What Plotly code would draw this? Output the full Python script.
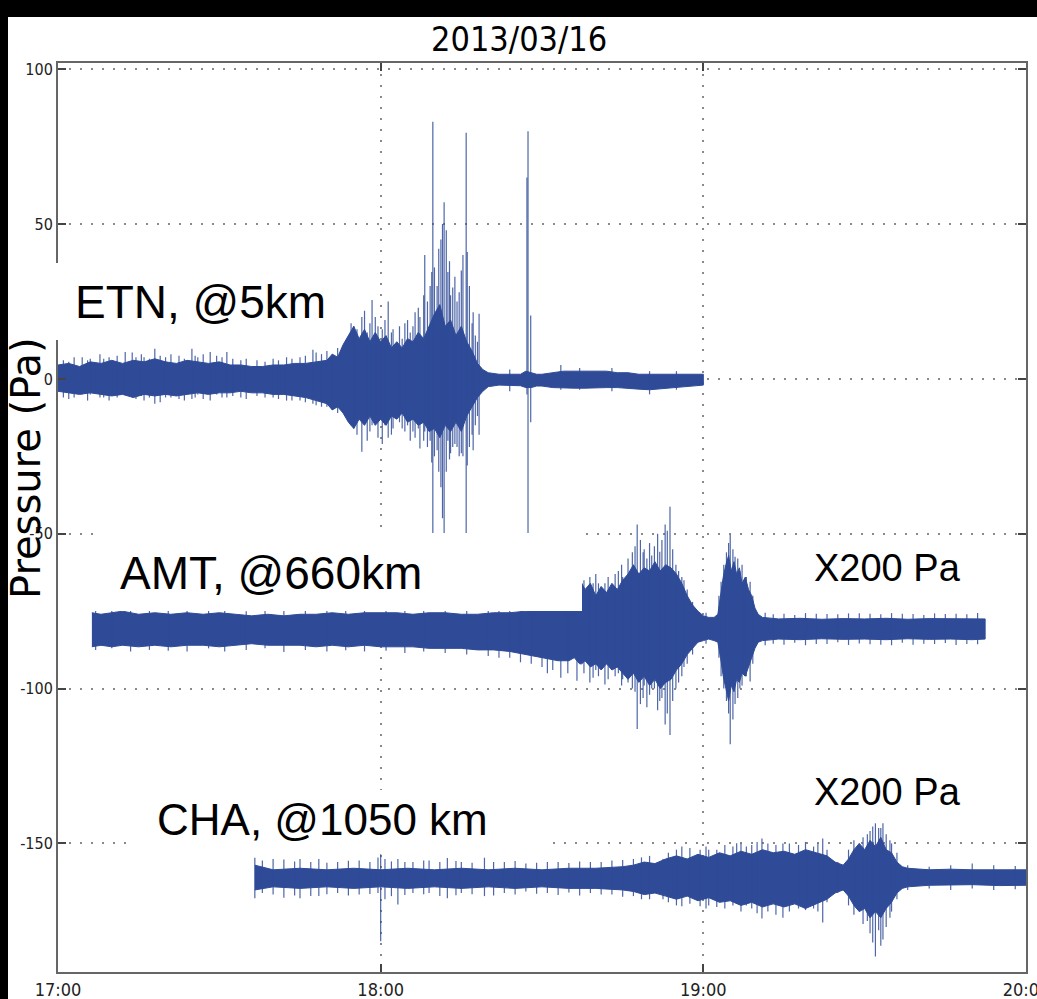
import plotly.graph_objects as go

# ---------------- data (minutes after 17:00, pressure in plotted Pa units) ----------------
time_tick_vals = [0, 60, 120, 180]
time_tick_text = ["17:00", "18:00", "19:00", "20:00"]
y_tick_vals = [-150, -100, -50, 0, 50, 100]
y_tick_text = ["-150", "-100", "-50", "0", "50", "100"]

# ETN (@5 km) envelope
etn_t = [0, 2, 4, 6, 8, 10, 12, 14, 16, 18, 20, 22, 24, 26, 28, 30, 32, 34, 36, 38, 40, 42, 44, 46, 48, 50,
         51, 52, 53, 54, 55, 56, 57, 58, 59, 60, 61, 62, 63, 64, 65, 66, 67, 68, 69, 70, 71, 72, 73, 74, 75,
         76, 77, 78, 79, 80, 82, 84, 86, 87, 88, 89, 90, 92, 94, 96, 98, 100, 102, 104, 106, 108, 110, 112,
         114, 116, 118, 120]
etn_hi = [4.5, 5, 4, 5.5, 5, 6, 5, 6, 5.5, 6.5, 5.5, 5, 6, 5.5, 5, 5.5, 4.5, 4.5, 4, 4, 4.5, 4.5, 5, 5, 5.5, 6,
          8, 7, 11, 14, 17, 13, 16, 12, 15, 12, 14, 10, 12, 10, 13, 12, 15, 13, 17, 21, 24, 17, 19, 14, 17,
          12, 9, 5, 3, 2, 1.5, 1.5, 1.5, 2.5, 2, 1.5, 1.5, 2, 2.5, 2.5, 2.5, 2.5, 2.5, 2, 2, 1.5, 1.5, 1.5,
          1.5, 1.5, 1.5, 1.5]
etn_lo = [-4, -4.5, -5, -4.5, -5, -5.5, -5, -6, -5, -5.5, -5, -5.5, -5, -4.5, -5, -4.5, -4.5, -4, -4.5, -4.5, -5,
          -5, -5.5, -6, -7, -8,
          -10, -9, -11, -14, -16, -13, -15, -12, -15, -13, -15, -12, -13, -11, -14, -13, -15, -14, -17, -16,
          -19, -15, -17, -14, -17, -12, -9, -6, -4, -2.5, -2, -2, -2.2, -2.8, -2.8, -2.3, -2.3, -2.8, -3, -3,
          -3, -3, -2.8, -2.8, -3, -3.3, -3.5, -3, -2.8, -2.6, -2.3, -2]
# ETN individual spikes (time, top, bottom)
etn_spk_t = [3, 6, 7.8, 9.5, 12.5, 13.8, 16, 18, 20, 22.5, 24.9, 26, 28.3, 29.5, 31.4, 34, 37, 40, 42.5, 45,
             47.4, 49, 51, 53, 54.5, 55.6, 56.5, 58.4, 59.5, 61.4, 62.3, 64.5, 66.4, 67.3, 68.2, 69.5, 69.7,
             70.5, 71.5, 71.8, 72.2, 72.5, 73.4, 74.2, 75.3, 75.9, 76.1, 77.2, 78.3, 84, 87.2, 87.4, 87.9,
             93.5, 97, 103, 110, 115,
             1, 2, 4.5, 5.5, 8.5, 11, 14.5, 15.5, 17, 19, 21, 23.5, 25.5, 27, 30.5, 32.5, 35, 38.5, 41, 43.5,
             46, 48, 50, 52,
             54, 55, 57, 57.5, 58, 59, 60.3, 60.8, 62, 63.5, 64, 65, 65.5, 66, 67, 68, 68.7, 69.2, 70, 70.8,
             71.2, 72.8, 73, 73.8, 74.6, 75, 76.5, 77, 77.6, 78]
etn_spk_hi = [7, 6.5, 8, 7, 8.7, 8.5, 7, 9.7, 7, 7.5, 9.7, 7, 8.7, 7.5, 8.7, 6, 6, 6.5, 7, 7,
              9.4, 8, 8, 9.7, 18, 16, 20, 25.5, 17, 25, 16, 18, 21.5, 20, 40, 34.5, 83,
              30, 50, 57, 48, 34.5, 29.5, 25, 40, 79.5, 41, 21.5, 21, 3, 65, 80, 20.5,
              4.5, 3.5, 3.5, 2.5, 2.5,
              6, 5.5, 7, 6, 6.5, 7.5, 7, 8, 6.5, 7.5, 8, 6.5, 7.5, 8, 7, 6.5, 6.5, 5.5, 6, 6.5,
              7.5, 8.5, 9, 10,
              13, 17, 22, 15, 18, 20, 16, 19, 15, 17, 13, 19, 15, 17, 23, 27, 25, 30, 36, 42,
              45, 38, 27, 33, 28, 35, 30, 18, 14, 12]
etn_spk_lo = [-6, -5, -6, -7, -4, -6, -7, -8, -6, -6.5, -6.5, -5, -7, -5, -6, -6, -5.5, -6, -7, -7,
              -8, -9, -10, -9.7, -15, -18, -23.5, -15, -19, -19, -16, -17, -19, -22.5, -17, -27, -56,
              -23, -45, -56, -30, -20, -22, -22, -25, -56, -28, -23, -18, -4, -5, -56, -14,
              -3.5, -3.5, -4, -5, -3.5,
              -6, -6.5, -5, -7, -6, -6, -6.5, -5.5, -6, -7.5, -6, -7, -6, -6.5, -6, -5.5, -6.5, -6, -6.5, -7,
              -7.5, -8.5, -9, -11,
              -12, -16, -14, -20, -17, -14, -21, -15, -18, -14, -16, -15, -20, -17, -16, -20, -22, -20, -25, -30,
              -35, -26, -24, -21, -25, -24, -22, -18, -15, -12]

# AMT (@660 km, x200) envelope
amt_t = [6.3, 8, 10, 12, 15, 18, 21, 24, 27, 30, 33, 36, 39, 42, 45, 48, 51, 54, 57, 60, 63, 66, 69, 72, 75,
         78, 81, 84, 87, 90, 93,
         95, 96, 97, 97.4, 98, 99, 100, 101, 102, 103, 104, 105, 106, 107, 108, 109, 110, 111, 112, 113,
         114, 115, 116, 117, 118, 119, 120, 121, 122, 122.7, 123.2, 123.7, 124.2, 124.7, 125.2, 125.7,
         126.2, 126.7, 127.2, 127.8, 128.4, 129, 129.6, 130.2, 131,
         134, 138, 142, 146, 150, 154, 158, 162, 166, 170, 172.4]
amt_hi = [-75.5, -76, -75.5, -75, -76, -75.5, -76, -75.5, -76, -75.5, -76, -76.5, -76, -76.5, -76, -76, -75.5,
          -76, -75.5, -75.5, -75.5, -76, -75.5, -75.5, -76, -76, -75.5, -75.5, -75, -74, -73,
          -73, -73, -73, -66, -68, -66, -70, -67, -69, -66, -68, -65, -63, -60, -63, -61, -62, -59, -62, -60,
          -61, -63, -66, -70, -73, -75, -76.5, -77, -77, -76, -70, -64, -60, -57, -62, -59,
          -63, -61, -66, -64, -68, -70, -74, -76, -77,
          -77.5, -77.3, -77.6, -77.4, -77.5, -77.3, -77.6, -77.4, -77.5, -77.4, -77.5]
amt_lo = [-86.5, -86, -86.5, -86, -86.5, -86, -86.5, -86, -86, -86.5, -86, -85.5, -86, -86, -86, -86.5, -86,
          -86.5, -86, -86.5, -86.5, -86.5, -87, -87, -87, -87.5, -87.5, -88, -89, -90, -91,
          -91, -90, -92, -92, -91, -93, -92, -94, -92, -94, -93, -95, -97, -95, -98, -96, -99, -97, -100, -98,
          -97, -94, -92, -89, -87, -85, -84.5, -84, -84.5, -85, -90, -96, -100, -104, -99, -101,
          -97, -98, -95, -96, -93, -90, -87, -85, -84.5,
          -84, -84.2, -83.9, -84.1, -84, -84.2, -83.9, -84.1, -84, -84.2, -84]
amt_spk_t = [7, 10, 13.5, 17, 20.5, 24, 28, 31, 35, 38.5, 42, 46, 50, 53.5, 57, 61, 64.5, 68, 72, 76, 80, 84,
             88, 92, 94.8, 96.5, 98.9, 100.5, 101.7, 103.6, 105, 107.3, 107.7, 108.8, 109.5, 110.4, 111.9,
             112.9, 113.8, 114.9, 116.4, 120.5, 123.3, 125, 125.9, 126.8, 128.7, 133, 137, 141, 145, 149,
             153, 157, 161, 165, 169,
             97.8, 99.5, 100, 102.3, 104.2, 104.8, 106, 106.8, 108.3, 109, 110, 110.9, 111.5, 112.3, 113.3,
             114.3, 115.4, 116, 117, 118,
             122.9, 123.8, 124.3, 124.7, 125.5, 126.4, 127.2, 128, 129.2,
             131.5, 135, 139, 143, 147, 151, 155, 159, 163, 167, 171,
             82, 86, 90, 91, 93.5]
amt_spk_hi = [-74, -74.5, -74, -74.8, -74, -74.5, -74.2, -74.6, -75, -74.5, -74.8, -74.5, -74.2, -74.6, -74.3,
              -74.8, -74.4, -74.5, -74.8, -74.6, -74.5, -74.8, -74, -73, -70, -67, -64, -66, -66, -63, -64,
              -54, -47, -56, -58, -57, -55.8, -47, -41.3, -60, -65, -75.5, -65.5, -50.3, -57.4, -62, -65.5,
              -76, -76.2, -75.8, -76, -75.7, -76, -75.8, -76.2, -75.9, -76,
              -65, -66, -63, -64, -62, -60, -58, -56, -52, -55, -53, -54, -50, -52, -49,
              -55, -62, -64, -68, -72,
              -70, -60, -56, -53, -55, -58, -60, -64, -70,
              -75.5, -75.8, -75.6, -75.9, -75.7, -75.8, -75.6, -75.9, -75.7, -75.8, -75.6,
              -74.5, -74, -73.5, -73, -72]
amt_spk_lo = [-87.5, -87, -88, -87.5, -87.8, -88, -87, -88, -87.5, -87, -88.2, -87.5, -88, -87.6, -88, -87.8,
              -88.5, -88, -88.5, -89, -89.5, -90, -92, -94, -95, -97.5, -98, -96, -98.7, -96, -97, -101,
              -113, -103, -106, -100, -104, -111.6, -115, -100, -93, -85.5, -96, -118, -105, -100, -97.7,
              -85.5, -85.2, -85.6, -85, -85.4, -85.8, -85.2, -85.5, -85.3, -85.6,
              -95, -96.5, -94, -97, -95, -99, -98, -100, -105, -99, -102, -100, -107, -103, -108,
              -104, -98, -96, -92, -89,
              -90, -100, -104, -108, -110, -103, -99, -96, -92,
              -86, -85.8, -86, -85.6, -85.9, -85.7, -86, -85.8, -85.6, -85.9, -85.7,
              -90, -91.5, -93, -95, -96.5]

# CHA (@1050 km, x200) envelope
cha_t = [36.6, 40, 45, 50, 55, 60, 65, 70, 75, 80, 85, 90, 95, 100,
         105, 107, 109, 111, 113, 115, 117, 119, 121, 123, 125, 127, 129, 131, 133, 135, 137, 139, 141, 143,
         144.5, 146, 147, 148, 149, 150, 151, 152, 153, 154, 155, 156, 157, 158,
         162, 166, 170, 175, 180]
cha_hi = [-157, -158.5, -158, -158.5, -158, -158.5, -158, -158.5, -158, -158.5, -158, -158.5, -158, -158,
          -157.5, -157, -156, -156.5, -155, -154, -155, -153.5, -154.5, -153, -154, -152.5, -153.5, -152,
          -153, -152.5, -153.5, -152, -153, -154, -156, -157, -155, -152, -150, -152, -149, -151, -148, -152,
          -153, -156, -157.5, -158,
          -158.5, -158.3, -158.5, -158.4, -158.5]
cha_lo = [-165, -164, -164.5, -164, -164.5, -164, -164.5, -164, -164.5, -164, -164.5, -164, -164.5, -164.5,
          -165, -165.5, -166.5, -166, -167, -168, -167, -168.5, -167.5, -169, -168.5, -170, -169, -170.5,
          -169.5, -170.5, -169.5, -171, -169.5, -168, -166, -165, -167, -170, -172, -171, -174, -172, -174,
          -171, -169, -166, -164.5, -164,
          -163.5, -163.5, -163.3, -163.6, -163.5]
cha_spk_t = [36.6, 38, 40, 42, 45, 48.5, 52, 56, 59.5, 60, 60.8, 63.2, 66, 69, 72.4, 75, 79.3, 83, 87, 91,
             95, 99, 103, 107, 110, 112.5, 116, 119.4, 121, 126.2, 128, 130.9, 134.8, 137.7, 142.2, 145, 149,
             150.5, 152, 152.6, 153.4, 154.7, 158, 162, 166, 170, 174, 178,
             113.5, 115, 117.5, 120.5, 122.5, 124, 125.5, 127, 129, 130, 132, 133.5, 136, 139, 140.5, 141.3,
             143, 147, 148, 149.7, 151, 151.5, 153, 154, 155, 156,
             44, 47, 50, 54, 58, 62, 64.5, 68, 71, 74, 77, 81, 85, 89, 93, 97, 101, 105, 108.5]
cha_spk_hi = [-154.6, -155.5, -155, -155.2, -155, -155, -156, -155.5, -154.5, -153.5, -155, -155, -156,
              -155.5, -154.7, -156, -154.6, -156, -156.5, -156, -156.3, -156, -155.5, -155, -154, -155, -151,
              -152, -152, -149.9, -151, -148.4, -150, -150.5, -148.4, -156, -150, -147, -143.5, -145, -143.5,
              -149, -157, -157.5, -157, -156.5, -157, -157.3,
              -153, -152, -151.5, -151, -152, -150.5, -151, -150, -150.5, -149.5, -150, -150.5, -150, -149.5,
              -151, -150, -152, -152, -149, -148, -146, -144.5, -145, -147, -150, -153,
              -155.8, -156, -156.2, -155.6, -156, -155.8, -156, -155.5, -156, -155.7, -156.2, -156, -155.7,
              -156.2, -156, -155.8, -156, -155.3, -154.5]
cha_spk_lo = [-167.7, -166, -166.5, -167.5, -167.7, -167, -166, -166.5, -166, -181.6, -168, -169.7, -166, -166,
              -167.7, -166, -167, -166, -165.5, -166, -165.8, -166, -166.5, -167, -168, -168, -170.3, -170.3,
              -170, -169, -170, -174.2, -174, -171, -175.5, -166, -172, -175, -186.5, -178, -181, -174, -165,
              -164.5, -165, -164.5, -165, -164.8,
              -169, -170, -169.5, -171, -170.5, -171, -170, -172, -171, -172.5, -172, -173, -172, -171.5,
              -171, -172, -169, -170, -173, -176, -179, -182, -183, -177, -172, -168,
              -166.8, -167, -166.4, -166.8, -166.3, -167, -166.6, -166.4, -167, -166.7, -166.4, -166.8, -166.5,
              -166.2, -166.6, -166.8, -166.5, -167.2, -168]

title_text = "2013/03/16"
y_title = "Pressure (Pa)"
station_labels = ["ETN, @5km", "AMT, @660km", "CHA, @1050 km"]
scale_label = "X200 Pa"

# ---------------- figure ----------------
W, H = 1037, 999
PL, PR, PT, PB = 58, 1026, 63, 972


def px_x(x):
    return (x - PL) / (PR - PL)


def px_y(y):
    return (PB - y) / (PB - PT)


BLUE = "#2f4b98"
SPIKE = "rgba(47,75,152,0.85)"
NARROW = "Liberation Sans Narrow, Arial Narrow, DejaVu Sans Condensed, Liberation Sans, Arial"
SANS = "Liberation Sans, Arial, Helvetica, sans-serif"

fig = go.Figure()


def add_station(t, hi, lo, st, shi, slo):
    fig.add_trace(go.Scatter(x=list(t) + list(t)[::-1], y=list(hi) + list(lo)[::-1], mode="lines",
                             fill="toself", fillcolor=BLUE, line=dict(color=BLUE, width=1),
                             hoverinfo="skip", showlegend=False))
    xs, ys = [], []
    for a, b, c in zip(st, shi, slo):
        xs += [a, a, None]
        ys += [b, c, None]
    fig.add_trace(go.Scatter(x=xs, y=ys, mode="lines", line=dict(color=SPIKE, width=1.2),
                             hoverinfo="skip", showlegend=False))


add_station(etn_t, etn_hi, etn_lo, etn_spk_t, etn_spk_hi, etn_spk_lo)
add_station(amt_t, amt_hi, amt_lo, amt_spk_t, amt_spk_hi, amt_spk_lo)
add_station(cha_t, cha_hi, cha_lo, cha_spk_t, cha_spk_hi, cha_spk_lo)

fig.update_layout(
    width=W, height=H,
    margin=dict(l=PL, r=W - PR, t=PT, b=H - PB, pad=0, autoexpand=False),
    paper_bgcolor="white", plot_bgcolor="white",
    showlegend=False,
)
axis_common = dict(
    ticks="inside", ticklen=8, tickwidth=1.5, tickcolor="#444",
    showline=True, linecolor="#666", linewidth=2, mirror="ticks",
    showgrid=True, gridcolor="#8a8a8a", gridwidth=1.5, griddash="2px,9px",
    zeroline=False, automargin=False, ticklabeloverflow="allow",
)
fig.update_xaxes(range=[0, 180], tickvals=time_tick_vals, ticktext=time_tick_text,
                 tickfont=dict(family=NARROW, size=18, color="#222"), **axis_common)
fig.update_yaxes(range=[-191.5, 102], tickvals=y_tick_vals, ticktext=y_tick_text,
                 tickfont=dict(family=NARROW, size=16, color="#222"), **axis_common)

shapes = []
# black frame remnants of the original figure
shapes.append(dict(type="rect", xref="paper", yref="paper", x0=px_x(0), x1=px_x(W), y0=px_y(17), y1=px_y(0),
                   fillcolor="black", line=dict(width=0), layer="above"))
shapes.append(dict(type="rect", xref="paper", yref="paper", x0=px_x(0), x1=px_x(8), y0=px_y(H), y1=px_y(0),
                   fillcolor="black", line=dict(width=0), layer="above"))
# white label boxes
for (x0, x1, y0, y1) in [(50, 345, 263, 340), (95, 582, 533, 611), (135, 553, 790, 851)]:
    shapes.append(dict(type="rect", xref="paper", yref="paper", x0=px_x(x0), x1=px_x(x1),
                       y0=px_y(y1), y1=px_y(y0), fillcolor="white", line=dict(width=0), layer="above"))
fig.update_layout(shapes=shapes)

ann = []
ann.append(dict(text=title_text, x=px_x(519), y=px_y(39), xref="paper", yref="paper", showarrow=False,
                xanchor="center", yanchor="middle", font=dict(family=NARROW, size=34, color="black")))
ann.append(dict(text=y_title, x=px_x(26), y=px_y(468), xref="paper", yref="paper", showarrow=False,
                xanchor="center", yanchor="middle", textangle=-90,
                font=dict(family="DejaVu Sans, Liberation Sans, sans-serif", size=40, color="black")))
for txt, x, y, s in [(station_labels[0], 73, 302, 46), (station_labels[1], 118, 573, 46),
                     (station_labels[2], 155, 819, 44), (scale_label, 812, 568, 38),
                     (scale_label, 812, 792, 38)]:
    ann.append(dict(text=txt, x=px_x(x), y=px_y(y), xref="paper", yref="paper", showarrow=False,
                    xanchor="left", yanchor="middle", font=dict(family=SANS, size=s, color="black")))
fig.update_layout(annotations=ann)

fig.write_html("out.html", config={"displayModeBar": False},
               post_script="document.body.style.margin='0';")
